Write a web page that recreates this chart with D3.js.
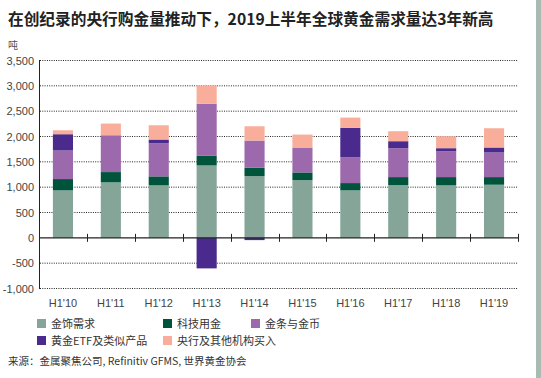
<!DOCTYPE html>
<html>
<head>
<meta charset="utf-8">
<script src="https://cdn.jsdelivr.net/npm/d3@7"></script>
<style>
  body { margin: 0; background: #fff; }
  svg { display: block; font-family: "Noto Sans CJK SC", "Liberation Sans", sans-serif; }
</style>
</head>
<body>
<script>
//chart data (tonnes)
var categories = ["H1'10", "H1'11", "H1'12", "H1'13", "H1'14", "H1'15", "H1'16", "H1'17", "H1'18", "H1'19"];
var seriesNames = ["金饰需求", "科技用金", "金条与金币", "黄金ETF及类似产品", "央行及其他机构买入"];
var jewellery = [937, 1095, 1036, 1429, 1219, 1140, 937, 1042, 1036, 1048];
var technology = [223, 203, 177, 189, 163, 151, 144, 157, 163, 151];
var barCoin = [564, 727, 655, 1030, 538, 492, 511, 570, 511, 486];
var etfs = [321, 0, 72, -603, -45, 0, 577, 138, 59, 98];
var centralBanks = [78, 230, 282, 360, 282, 255, 204, 197, 236, 380];
var yTicks = [-1000, -500, 0, 500, 1000, 1500, 2000, 2500, 3000, 3500];

var colors = ["#84a597", "#00543c", "#9d69ad", "#4a2a8c", "#f8ae9b"];

window.onload = drawChart();

function drawChart(){
    var width = 541,
        height = 378;

    var svg = d3.select("body")
        .append("svg")
        .attr("width", width)
        .attr("height", height);

    //right edge stripe
    svg.append("rect")
        .attr("x", 536).attr("y", 0)
        .attr("width", 5).attr("height", height)
        .attr("fill", "#a8bcb4");

    //title
    svg.append("text")
        .attr("x", 8).attr("y", 25)
        .attr("font-size", 15.7)
        .attr("font-weight", "bold")
        .attr("fill", "#222")
        .text("在创纪录的央行购金量推动下，2019上半年全球黄金需求量达3年新高");

    svg.append("text")
        .attr("x", 8).attr("y", 49)
        .attr("font-size", 10)
        .attr("fill", "#555")
        .text("吨");

    var x = d3.scaleBand()
        .domain(categories)
        .range([39, 518])
        .paddingInner(0.58)
        .paddingOuter(0.29);

    var y = d3.scaleLinear()
        .domain([-1000, 3500])
        .range([288.5, 60.5]);

    //gridlines
    svg.selectAll(".grid")
        .data(yTicks.filter(function(d){ return d !== 0; }))
        .enter()
        .append("line")
        .attr("class", "grid")
        .attr("x1", 40).attr("x2", 518)
        .attr("y1", function(d){ return y(d); })
        .attr("y2", function(d){ return y(d); })
        .attr("stroke", "#222")
        .attr("stroke-width", 1)
        .attr("stroke-dasharray", "1,1.3");

    //y tick labels
    svg.selectAll(".ylab")
        .data(yTicks)
        .enter()
        .append("text")
        .attr("class", "ylab")
        .attr("x", 34)
        .attr("y", function(d){ return y(d) + 4; })
        .attr("text-anchor", "end")
        .attr("font-size", 11)
        .attr("font-family", "Liberation Sans, sans-serif")
        .attr("fill", "#444")
        .text(function(d){ return d3.format(",")(d).replace("−", "-"); });

    //stacked bars
    var rows = categories.map(function(c, i){
        return { cat: c, v: [jewellery[i], technology[i], barCoin[i], etfs[i], centralBanks[i]] };
    });

    rows.forEach(function(r){
        var pos = 0, neg = 0;
        r.v.forEach(function(v, k){
            if (v === 0) return;
            var y0, y1;
            if (v > 0) { y0 = pos; y1 = pos + v; pos = y1; }
            else { y0 = neg + v; y1 = neg; neg = y0; }
            svg.append("rect")
                .attr("x", x(r.cat))
                .attr("width", x.bandwidth())
                .attr("y", y(y1))
                .attr("height", y(y0) - y(y1))
                .attr("fill", colors[k]);
        });
    });

    //y axis line
    svg.append("line")
        .attr("x1", 39.5).attr("x2", 39.5)
        .attr("y1", 60).attr("y2", 289)
        .attr("stroke", "#222");

    //zero line with category ticks
    svg.append("line")
        .attr("x1", 39).attr("x2", 518)
        .attr("y1", y(0)).attr("y2", y(0))
        .attr("stroke", "#222")
        .attr("stroke-width", 1.2);

    var step = x.step();
    svg.selectAll(".xtick")
        .data(categories)
        .enter()
        .append("line")
        .attr("class", "xtick")
        .attr("x1", function(d){ return Math.round(x(d) + x.bandwidth() + (step - x.bandwidth()) / 2) + 0.5; })
        .attr("x2", function(d){ return Math.round(x(d) + x.bandwidth() + (step - x.bandwidth()) / 2) + 0.5; })
        .attr("y1", y(0) - 4).attr("y2", y(0) + 4)
        .attr("stroke", "#222");

    //x labels
    svg.selectAll(".xlab")
        .data(categories)
        .enter()
        .append("text")
        .attr("class", "xlab")
        .attr("x", function(d){ return x(d) + x.bandwidth() / 2; })
        .attr("y", 307)
        .attr("text-anchor", "middle")
        .attr("font-size", 11)
        .attr("font-family", "Liberation Sans, sans-serif")
        .attr("fill", "#444")
        .text(function(d){ return d; });

    //legend
    var legendPos = [[37, 324], [163, 324], [251, 324], [37, 341], [163, 341]];
    seriesNames.forEach(function(name, k){
        var g = svg.append("g")
            .attr("transform", "translate(" + legendPos[k][0] + "," + legendPos[k][1] + ")");
        g.append("rect")
            .attr("x", 0).attr("y", -5)
            .attr("width", 9).attr("height", 9)
            .attr("fill", colors[k]);
        g.append("text")
            .attr("x", 14).attr("y", 4)
            .attr("font-size", 11)
            .attr("fill", "#333")
            .text(name);
    });

    //source
    svg.append("text")
        .attr("x", 8).attr("y", 365)
        .attr("font-size", 10.5)
        .attr("fill", "#333")
        .text("来源：金属聚焦公司, Refinitiv GFMS, 世界黄金协会");
}
</script>
</body>
</html>
